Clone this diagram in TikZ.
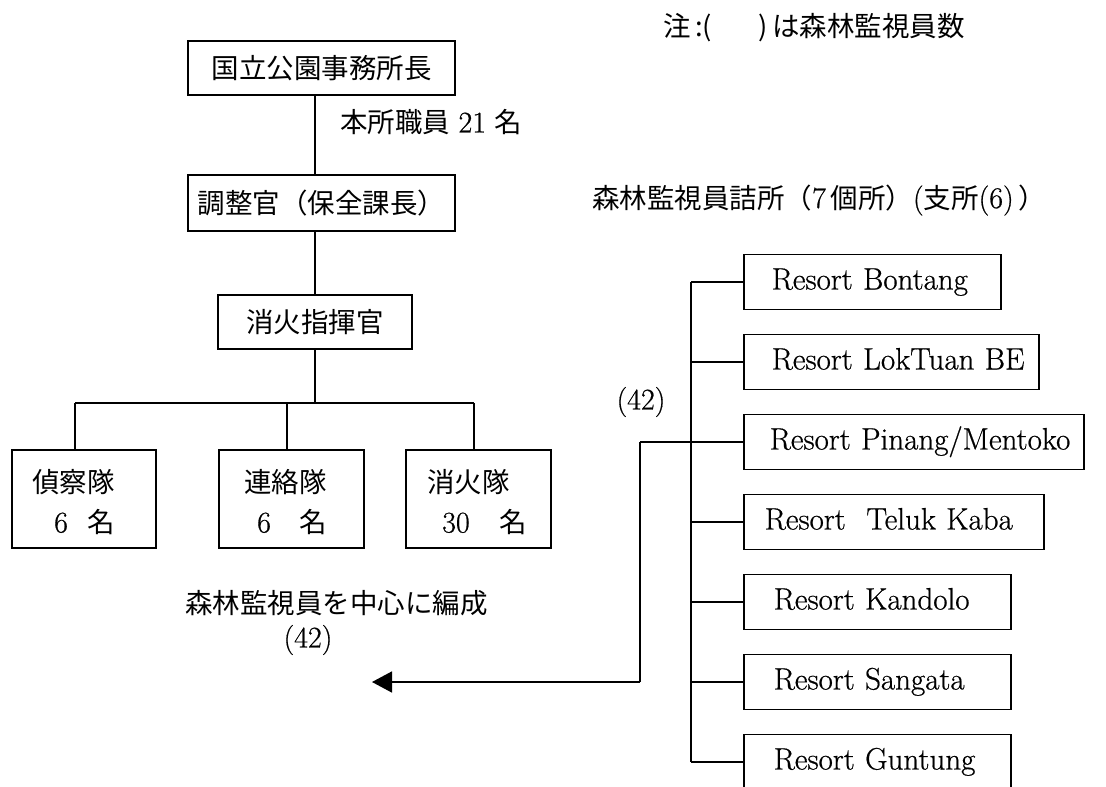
\documentclass[tikz,border=0pt]{standalone}
\usepackage{fontspec}
\setmainfont{Latin Modern Roman}[FakeBold=0.6]
\newfontfamily\cjk{Noto Sans CJK JP}
\usetikzlibrary{arrows.meta}
\tikzset{
  txt/.style={inner sep=0pt, font=\fontsize{27.5}{32}\selectfont},
  box/.style={draw, line width=1.6pt, inner sep=0pt, font=\fontsize{27.5}{32}\selectfont},
  rbox/.style={draw, line width=1.6pt, inner sep=0pt, anchor=west, minimum height=55pt,
    align=left, text width=#1, text height=21pt, text depth=6pt, font=\fontsize{31}{36}\selectfont},
  num/.style={font=\fontsize{30}{34}\selectfont},
  conn/.style={line width=1.6pt},
}
\newcommand\nm[1]{{\fontsize{30}{34}\selectfont #1}}
\begin{document}
\begin{tikzpicture}[x=1pt,y=-1pt]
\useasboundingbox (0,0) rectangle (1106,787);
\clip (0,0) rectangle (1106,787);
% note
\node[txt, anchor=west] (note) at (663,28) {\cjk 注\,:(\hspace{46pt})\,は森林監視員数};
% left hierarchy
\node[box, minimum width=267pt, minimum height=54pt] (chief) at (321.5,68) {\cjk 国立公園事務所長};
\node[txt, anchor=west] (staff) at (340,122) {{\cjk 本所職員}\ \nm{21}\ {\cjk 名}};
\node[box, minimum width=267pt, minimum height=56pt] (coord) at (321.5,203) {\cjk 調整官（保全課長）};
\node[box, minimum width=194pt, minimum height=54pt] (fire) at (315,322) {\cjk 消火指揮官};
% teams
\node[box, minimum width=144pt, minimum height=98pt, anchor=north west] (recon) at (11,449) {};
\node[txt, anchor=west] (recon1) at (32,482) {\cjk 偵察隊};
\node[txt, anchor=west] (recon2) at (54,522) {\nm{6}\hspace{20pt}{\cjk 名}};
\node[box, minimum width=145pt, minimum height=98pt, anchor=north west] (liaison) at (218,449) {};
\node[txt, anchor=west] (liaison1) at (244,482) {\cjk 連絡隊};
\node[txt, anchor=west] (liaison2) at (257,522) {\nm{6}\hspace{29pt}{\cjk 名}};
\node[box, minimum width=145pt, minimum height=98pt, anchor=north west] (squad) at (405,449) {};
\node[txt, anchor=west] (squad1) at (427,482) {\cjk 消火隊};
\node[txt, anchor=west] (squad2) at (442,522) {\nm{30}\hspace{30pt}{\cjk 名}};
\node[txt, anchor=west] (center) at (185,603) {\cjk 森林監視員を中心に編成};
\node[txt, num] (n42a) at (308,640) {(42)};
% connectors left
\draw[conn] (chief.south -| fire.north) -- (coord.north -| fire.north);
\draw[conn] (coord.south -| fire.north) -- (fire.north);
\coordinate (barL) at (75,403);
\coordinate (barM) at (287,403);
\coordinate (barR) at (474,403);
\draw[conn] (fire.south) -- (fire.south |- barL);
\draw[conn] (barL) -- (barR);
\draw[conn] (barL) -- (barL |- recon.north);
\draw[conn] (barM) -- (barM |- liaison.north);
\draw[conn] (barR) -- (barR |- squad.north);
% right side
\node[txt, anchor=west] (posts) at (592,200) {{\cjk 森林監視員詰所（}\nm{7}\,{\cjk 個所）}\nm{(}{\cjk 支所}\nm{(6)}\,{\cjk ）}};
\node[rbox=257pt] (r1) at (743,282) {\hspace*{28pt}Resort Bontang};
\node[rbox=295pt] (r2) at (743,362) {\hspace*{28pt}Resort LokTuan BE};
\node[rbox=340pt] (r3) at (743,442) {\hspace*{26pt}Resort Pinang/Mentoko};
\node[rbox=300pt] (r4) at (743,522) {\hspace*{21pt}Resort\ \ Teluk Kaba};
\node[rbox=267pt] (r5) at (743,602) {\hspace*{30pt}Resort Kandolo};
\node[rbox=267pt] (r6) at (743,682) {\hspace*{30pt}Resort Sangata};
\node[rbox=267pt] (r7) at (743,762) {\hspace*{30pt}Resort Guntung};
\coordinate (spT) at (691,282);
\coordinate (spB) at (691,762);
\draw[conn] (spT) -- (spB);
\foreach \r in {r1,r2,r3,r4,r5,r6,r7} { \draw[conn] (\r.west -| spT) -- (\r.west); }
\node[txt, num] (n42b) at (641,402) {(42)};
\coordinate (branch) at (640,442);
\coordinate (corner) at (640,682);
\coordinate (tip) at (372,682);
\draw[conn] (branch) -- (r3.west);
\draw[conn] (branch) -- (corner);
\draw[conn, -{Triangle[length=20pt,width=21pt]}] (corner) -- (tip);
\end{tikzpicture}
\end{document}
